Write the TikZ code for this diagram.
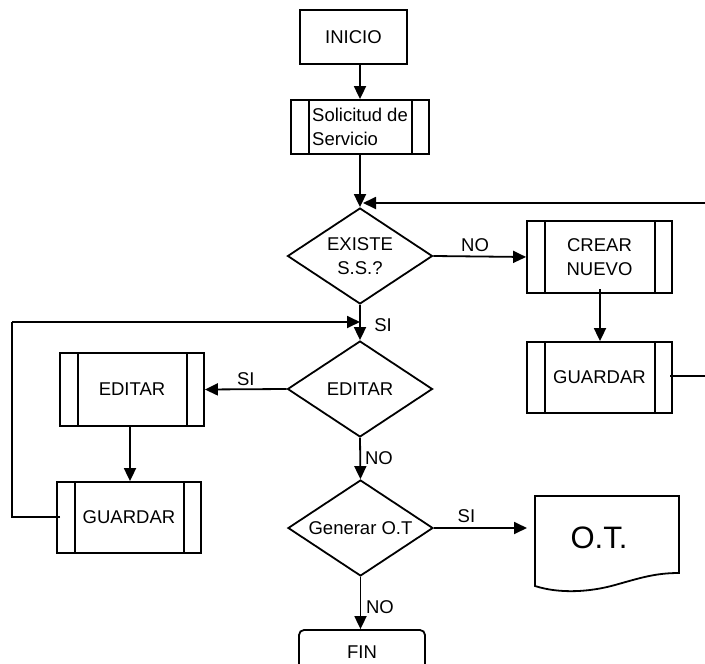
\documentclass[tikz,border=0pt]{standalone}
\usepackage{fontspec}
\setmainfont{Liberation Sans}
\usetikzlibrary{shapes.geometric,arrows.meta}
\begin{document}
\begin{tikzpicture}[x=1pt,y=-1pt,
  every node/.style={font=\fontsize{18.5}{24}\selectfont},
  ln/.style={line width=1.8pt},
  arr/.style={ln,-{Triangle[length=13pt,width=12pt]}},
  boxx/.style={draw,ln,rectangle,inner sep=0pt},
  subproc/.style={boxx,path picture={
      \draw[ln] ([xshift=18pt]path picture bounding box.north west) -- ([xshift=18pt]path picture bounding box.south west);
      \draw[ln] ([xshift=-17pt]path picture bounding box.north east) -- ([xshift=-17pt]path picture bounding box.south east);}},
  dec/.style={draw,ln,diamond,aspect=1.5,inner sep=0pt,minimum width=145pt,minimum height=96pt,align=center},
  lbl/.style={inner sep=0pt}
]
\useasboundingbox (0,0) rectangle (705,664);

\node[boxx,minimum width=107pt,minimum height=54pt] (inicio) at (353.5,37) {INICIO};
\node[subproc,minimum width=138pt,minimum height=54pt,align=left] (sol) at (360,127) {Solicitud de\\Servicio};
\node[dec] (existe) at (360,256) {EXISTE\\S.S.?};
\node[subproc,minimum width=145pt,minimum height=72pt,align=center] (crear) at (599.5,257) {CREAR\\NUEVO};
\node[subproc,minimum width=145pt,minimum height=71pt] (guardR) at (599.5,377.5) {GUARDAR};
\node[dec] (editar) at (360,389) {EDITAR};
\node[subproc,minimum width=144pt,minimum height=73pt] (editL) at (132,389.5) {EDITAR};
\node[subproc,minimum width=144pt,minimum height=71pt] (guardL) at (129,517.5) {GUARDAR};
\node[dec] (gen) at (360.5,528) {Generar O.T};
\node[draw,ln,rectangle,rounded corners=5pt,minimum width=126pt,minimum height=40pt,inner sep=0pt] (fin) at (362,650) {};
\node[lbl] (fintxt) at (362,652) {FIN};

% document shape
\draw[ln] (535,586) -- (535,496) -- (679,496) -- (679,573)
  .. controls (655,573) and (640,578) .. (615,585)
  .. controls (590,592) and (560,594) .. cycle;
\node[lbl,font=\fontsize{31}{31}\selectfont] (ot) at (599,538) {O.T.};

% coordinates
\coordinate (rtop) at (712,203);
\coordinate (rmid) at (712,376);
\coordinate (gRout) at (670,376);
\coordinate (loopA) at (60,517);
\coordinate (loopB) at (12,517);
\coordinate (loopC) at (12,322);
\coordinate (loopD) at (360,322);
\coordinate (crB) at (600,289);

% connectors
\draw[arr] (360,64) -- (sol.north -| 360,0);
\draw[arr] (sol.south) -- (existe.north);
\draw[arr] (rtop) -- (363,203);
\draw[ln] (gRout) -- (rmid) -- (rtop);
\draw[arr] (existe.east) -- (crear.west) node[lbl,pos=0.45,above=4pt] (no1) {NO};
\draw[arr] (crB) -- (guardR.north -| crB);
\draw[arr] (existe.south) -- (editar.north);
\node[lbl] (si1) at (383,325) {SI};
\draw[ln] (loopA) -- (loopB) -- (loopC);
\draw[arr] (loopC) -- (loopD);
\draw[arr] (editar.west) -- (editL.east) node[lbl,pos=0.5,above=3pt] (si2) {SI};
\draw[arr] (editL.south -| 130,0) -- (guardL.north -| 130,0);
\draw[arr] (editar.south) -- (gen.north);
\node[lbl] (no2) at (379,458) {NO};
\draw[arr] (gen.east) -- (527,528) node[lbl,pos=0.35,above=4pt] (si3) {SI};
\draw[arr] (gen.south) -- (fin.north -| gen.south);
\node[lbl] (no3) at (380,607) {NO};
\end{tikzpicture}
\end{document}
